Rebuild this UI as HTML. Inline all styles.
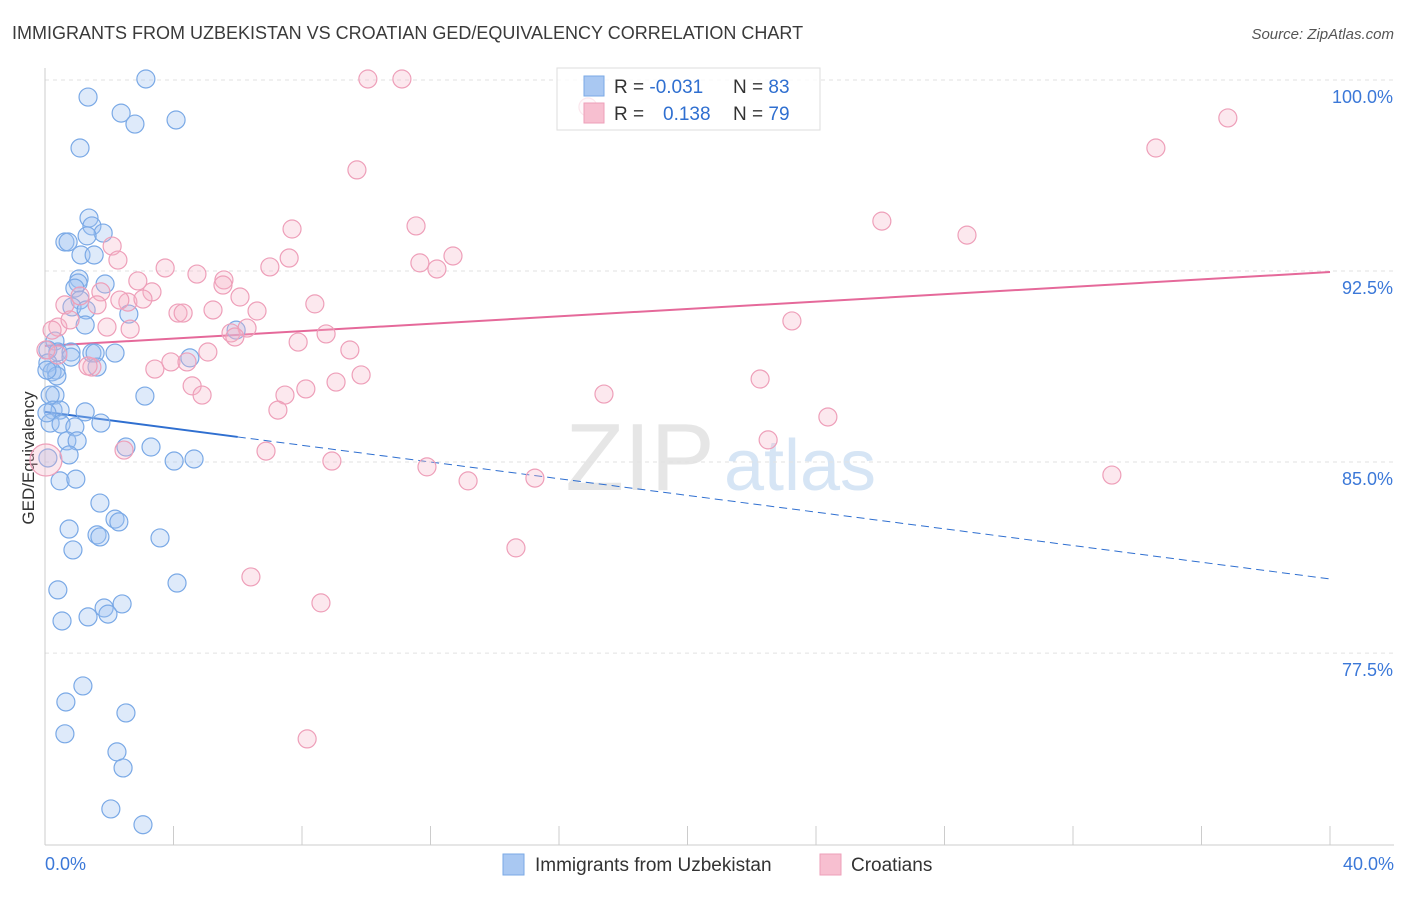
<!DOCTYPE html>
<html><head><meta charset="utf-8"><style>
body{margin:0;background:#fff;font-family:"Liberation Sans",sans-serif;}
svg text{font-family:"Liberation Sans",sans-serif;}
</style></head><body>
<svg id="chart" width="1406" height="892" xmlns="http://www.w3.org/2000/svg">
<text x="12" y="39" font-size="18" fill="#3a3a3a">IMMIGRANTS FROM UZBEKISTAN VS CROATIAN GED/EQUIVALENCY CORRELATION CHART</text>
<text x="1394" y="39" font-size="15" fill="#555" font-style="italic" text-anchor="end">Source: ZipAtlas.com</text>
<text x="34" y="458" font-size="17" fill="#333" text-anchor="middle" transform="rotate(-90 34 458)">GED/Equivalency</text>
<text x="640" y="490" font-size="96" fill="#e6e6e6" font-family="Liberation Serif" text-anchor="middle">ZIP</text>
<text x="800" y="490" font-size="72" fill="#d6e5f5" text-anchor="middle">atlas</text>
<g id="grid"></g><g id="axes"></g><g id="trends"></g><g id="pts"></g>
<g>
<rect x="557" y="68" width="263" height="62" fill="#fff" fill-opacity="0.75" stroke="#ddd"/>
<rect x="584" y="76" width="20" height="20" fill="#a9c8f2" stroke="#7aa9e6"/>
<rect x="584" y="103" width="20" height="20" fill="#f7bfd0" stroke="#ee9fb9"/>
<text x="614" y="93" font-size="19" fill="#333">R = <tspan fill="#2f6fd0">-0.031</tspan></text>
<text x="733" y="93" font-size="19" fill="#333">N = <tspan fill="#2f6fd0">83</tspan></text>
<text x="614" y="120" font-size="19" fill="#333">R = <tspan fill="#2f6fd0" x="663">0.138</tspan></text>
<text x="733" y="120" font-size="19" fill="#333">N = <tspan fill="#2f6fd0">79</tspan></text>
</g>
<g>
<rect x="503" y="854" width="21" height="21" fill="#a9c8f2" stroke="#7aa9e6"/>
<text x="535" y="871" font-size="19" fill="#333">Immigrants from Uzbekistan</text>
<rect x="820" y="854" width="21" height="21" fill="#f7bfd0" stroke="#ee9fb9"/>
<text x="851" y="871" font-size="19" fill="#333">Croatians</text>
</g>
</svg>
<script>
const yTicks=[100,92.5,85,77.5];
const yTickLabels=["100.0%","92.5%","85.0%","77.5%"];
const xTickLabels=["0.0%","40.0%"];
const blueX=[3.14,1.34,2.37,2.80,4.08,1.09,1.37,1.46,1.81,1.31,0.62,0.72,1.12,1.53,1.06,1.03,1.87,0.93,1.09,0.84,1.28,2.61,1.25,5.95,0.31,0.09,0.40,0.81,0.81,1.46,1.56,2.18,4.51,0.09,0.34,1.62,0.22,0.37,0.31,0.16,3.11,0.25,0.47,1.25,0.16,0.50,0.93,1.74,0.68,1.00,2.52,3.30,0.75,4.02,4.64,0.47,0.96,1.71,2.18,2.30,0.75,1.62,1.71,3.58,0.87,4.11,0.40,2.40,1.84,1.96,1.34,0.53,1.18,0.65,2.52,0.62,2.24,2.43,2.05,3.05,0.09,0.06,0.06];
const blueY=[100.04,99.33,98.70,98.27,98.43,97.33,94.58,94.27,93.99,93.88,93.64,93.64,93.13,93.13,92.19,92.03,91.99,91.83,91.36,91.09,90.97,90.81,90.38,90.18,89.75,89.40,89.32,89.32,89.12,89.28,89.28,89.28,89.09,88.89,88.61,88.73,88.54,88.38,87.63,87.63,87.59,87.04,87.04,86.97,86.53,86.49,86.38,86.53,85.83,85.83,85.59,85.59,85.28,85.04,85.12,84.26,84.33,83.39,82.76,82.65,82.37,82.14,82.06,82.02,81.55,80.25,79.98,79.43,79.27,79.03,78.92,78.76,76.21,75.58,75.15,74.33,73.62,72.99,71.38,70.76,85.16,86.93,88.61];
const pinkX=[10.05,11.11,16.90,36.82,34.58,9.71,26.05,11.55,7.69,28.70,2.09,2.27,12.70,11.67,12.20,7.00,3.74,7.60,4.73,5.57,5.54,2.89,1.74,3.33,1.09,6.07,0.62,1.62,2.58,3.05,8.40,5.23,6.60,4.14,4.30,2.65,1.93,6.29,5.79,0.40,23.25,8.75,7.88,9.49,5.07,3.92,4.42,3.42,1.46,9.84,9.06,4.58,4.89,8.12,7.47,17.40,22.26,7.25,24.37,22.51,2.46,6.88,8.93,11.89,13.17,15.25,33.21,14.66,6.41,8.59,8.16,0.03,0.40,0.22,1.34,0.78,0.03,5.91,2.33];
const pinkY=[100.04,100.04,98.94,98.51,97.33,96.47,94.46,94.27,94.15,93.91,93.48,92.93,93.09,92.82,92.58,92.66,92.62,93.01,92.38,92.15,91.95,92.11,91.68,91.68,91.52,91.48,91.17,91.17,91.28,91.40,91.21,90.97,90.93,90.85,90.85,90.22,90.30,90.26,90.07,90.30,90.54,90.03,89.71,89.40,89.32,88.93,88.93,88.65,88.73,88.42,88.14,87.99,87.63,87.87,87.63,87.67,88.26,87.04,86.77,85.87,85.47,85.43,85.04,84.81,84.26,84.37,84.49,81.63,80.49,79.47,74.13,85.08,89.20,90.18,88.77,90.58,89.40,89.91,91.36];
const blueTrend=[86.97,80.41];
const pinkTrend=[89.56,92.46];
const X0=45,X1=1330,Y0=80,PXY=25.47;
const sx=v=>X0+(v/40)*(X1-X0);
const sy=v=>Y0+(100-v)*PXY;
const NS="http://www.w3.org/2000/svg";
function mk(tag,attrs,parent){const e=document.createElementNS(NS,tag);for(const k in attrs)e.setAttribute(k,attrs[k]);document.getElementById(parent).appendChild(e);return e;}
yTicks.forEach((t,i)=>{
  const l=mk('line',{x1:X0,x2:1394,y1:sy(t),y2:sy(t),stroke:'#e2e2e2','stroke-dasharray':'4,4'},'grid');
  
  
  const tx=mk('text',{x:1393,y:sy(t)+23,'font-size':18,fill:'#3b78d8','text-anchor':'end'},'grid');
  tx.textContent=yTickLabels[i];
  
  
});
const ax=mk('line',{x1:X0,x2:X0,y1:68,y2:845,stroke:'#ccc'},'axes');


const bx=mk('line',{x1:X0,x2:1394,y1:845,y2:845,stroke:'#ccc'},'axes');


for(let i=0;i<=10;i++){
  const t=mk('line',{x1:sx(i*4),x2:sx(i*4),y1:826,y2:845,stroke:'#ccc'},'axes');
  
  
}
[[0,'start',45],[40,'end',1394]].forEach((d,i)=>{
  const t=mk('text',{x:d[2],y:870,'font-size':18,fill:'#3b78d8','text-anchor':d[1]},'axes');
  t.textContent=xTickLabels[i];
  
  
});
function draw(xs,ys,fill,stroke,name){
  xs.forEach((x,i)=>{
    const r=(x<0.1&&Math.abs(ys[i]-85.1)<0.2&&name==='pink-point')?16:9;
    const c=mk('circle',{cx:sx(x),cy:sy(ys[i]),r:r,fill:fill,stroke:stroke,'stroke-width':1.2},'pts');
    
    
  });
}
draw(blueX,blueY,'rgba(160,196,240,0.35)','#7aa9e6','blue-point');
draw(pinkX,pinkY,'rgba(245,180,200,0.3)','#ee9fb9','pink-point');
const bSplit=6;
const bAt=x=>blueTrend[0]+(blueTrend[1]-blueTrend[0])*x/40;
const t1=mk('line',{x1:sx(0),y1:sy(blueTrend[0]),x2:sx(bSplit),y2:sy(bAt(bSplit)),stroke:'#2f6fd0','stroke-width':2},'trends');


const t2=mk('line',{x1:sx(bSplit),y1:sy(bAt(bSplit)),x2:sx(40),y2:sy(blueTrend[1]),stroke:'#2f6fd0','stroke-width':1,'stroke-dasharray':'8,5'},'trends');


const t3=mk('line',{x1:sx(0),y1:sy(pinkTrend[0]),x2:sx(40),y2:sy(pinkTrend[1]),stroke:'#e5699a','stroke-width':2},'trends');


</script>
</body></html>
